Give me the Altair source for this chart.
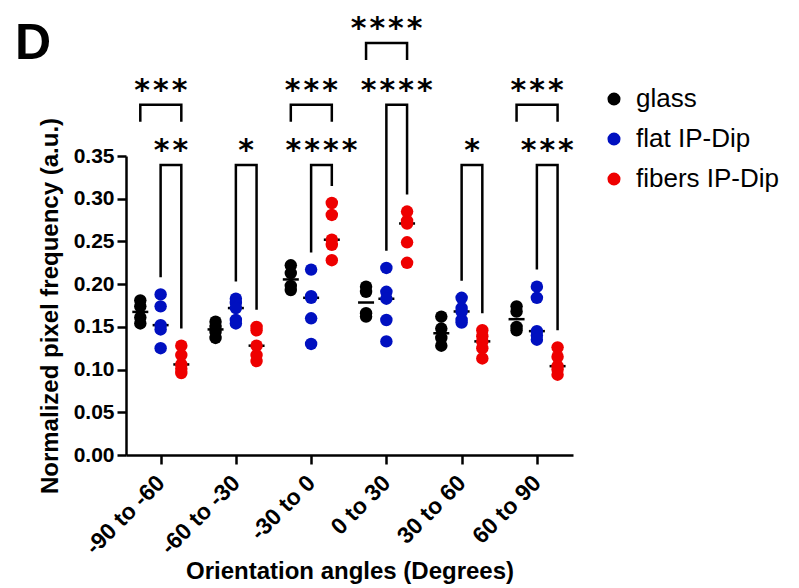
import json
import statistics
import altair as alt
import pandas as pd

# ---------------- data ----------------
categories = ["-90 to -60", "-60 to -30", "-30 to 0", "0 to 30", "30 to 60", "60 to 90"]
series = ["glass", "flat IP-Dip", "fibers IP-Dip"]
colors = ["#000000", "#0010C0", "#EE0000"]

glass = [
    [0.181, 0.174, 0.161, 0.154],
    [0.156, 0.150, 0.144, 0.137],
    [0.222, 0.213, 0.198, 0.193],
    [0.197, 0.191, 0.166, 0.162],
    [0.162, 0.148, 0.137, 0.128],
    [0.174, 0.168, 0.150, 0.146],
]
flat = [
    [0.188, 0.174, 0.152, 0.147, 0.125],
    [0.183, 0.178, 0.172, 0.158, 0.154],
    [0.217, 0.186, 0.184, 0.160, 0.130],
    [0.219, 0.191, 0.183, 0.158, 0.133],
    [0.184, 0.172, 0.168, 0.158, 0.155],
    [0.197, 0.184, 0.145, 0.140, 0.135],
]
fibers = [
    [0.128, 0.117, 0.106, 0.101, 0.096],
    [0.150, 0.146, 0.128, 0.117, 0.110],
    [0.295, 0.281, 0.252, 0.246, 0.228],
    [0.285, 0.274, 0.271, 0.249, 0.225],
    [0.146, 0.139, 0.133, 0.125, 0.113],
    [0.126, 0.115, 0.104, 0.100, 0.094],
]
y_ticks = [0.0, 0.05, 0.10, 0.15, 0.20, 0.25, 0.30, 0.35]

# significance brackets: (group index, left series, right series, level, stars, legs reach data)
brackets = [
    (0, 0, 2, 1, "***", False),
    (0, 1, 2, 0, "**", True),
    (1, 1, 2, 0, "*", True),
    (2, 0, 2, 1, "***", False),
    (2, 1, 2, 0, "****", True),
    (3, 0, 2, 2, "****", False),
    (3, 1, 2, 1, "****", True),
    (4, 1, 2, 0, "*", True),
    (5, 0, 2, 1, "***", False),
    (5, 1, 2, 0, "***", True),
]
LEVEL_Y = [0.3396, 0.410, 0.4824]   # bracket heights (data units)
STAR_GAP = 0.0255
LEG_GAP = 0.020
SHORT_LEG = 0.020
OFFSETS = [-0.27, 0.0, 0.275]

all_vals = [glass, flat, fibers]

pts, meds = [], []
for gi, cat in enumerate(categories):
    for si, s in enumerate(series):
        vals = all_vals[si][gi]
        for v in vals:
            pts.append({"pos": gi + OFFSETS[si], "value": v, "series": s})
        meds.append({"pos": gi + OFFSETS[si], "value": statistics.median(vals)})
pts = pd.DataFrame(pts)
meds = pd.DataFrame(meds)

lines, stars = [], []
for bi, (g, l, r, lev, st, to_data) in enumerate(brackets):
    top = LEVEL_Y[lev]
    xl, xr = g + OFFSETS[l], g + OFFSETS[r]
    if to_data:
        bl = max(all_vals[l][g]) + LEG_GAP
        br = max(all_vals[r][g]) + LEG_GAP
    else:
        bl = br = top - SHORT_LEG
    for k, (x, y) in enumerate([(xl, bl), (xl, top), (xr, top), (xr, br)]):
        lines.append({"bid": bi, "k": k, "pos": x, "value": y})
    stars.append({"pos": (xl + xr) / 2, "value": top + STAR_GAP, "stars": "\u200A".join(st)})
lines = pd.DataFrame(lines)
stars = pd.DataFrame(stars)

FONT = "Liberation Sans"

x_enc = alt.X(
    "pos:Q",
    scale=alt.Scale(domain=[-0.46, 5.48], nice=False, zero=False),
    axis=alt.Axis(
        values=list(range(len(categories))),
        labelExpr=json.dumps(categories) + "[datum.value]",
        title="Orientation angles (Degrees)",
        labelAngle=315, labelAlign="right", labelBaseline="middle",
        labelFontSize=23, labelPadding=15, labelOverlap=False,
        titlePadding=1, titleFontSize=24,
    ),
)
y_enc = alt.Y(
    "value:Q",
    scale=alt.Scale(domain=[0, 0.35], nice=False, zero=True),
    axis=alt.Axis(
        values=y_ticks, format=".2f", title="Normalized pixel frequency (a.u.)",
        labelFontSize=21, labelPadding=3, titlePadding=11, titleFontSize=24,
    ),
)

points = alt.Chart(pts).mark_circle(size=155, opacity=1).encode(
    x=x_enc, y=y_enc,
    color=alt.Color(
        "series:N",
        scale=alt.Scale(domain=series, range=colors),
        legend=alt.Legend(
            title=None, orient="none", legendX=475, legendY=-70,
            symbolType="circle", symbolSize=170, symbolStrokeWidth=0, symbolOpacity=1,
            labelFontSize=26, labelFont=FONT, labelColor="black",
            rowPadding=14, labelOffset=9,
        ),
    ),
)
median_ticks = alt.Chart(meds).mark_tick(
    color="black", opacity=1, thickness=2.5, size=16, orient="horizontal"
).encode(x=x_enc, y=y_enc)
bracket_lines = alt.Chart(lines).mark_line(
    color="black", strokeWidth=2.5, strokeJoin="miter", strokeCap="butt"
).encode(x=x_enc, y=y_enc, detail="bid:N", order="k:Q")
star_text = alt.Chart(stars).mark_text(
    font="DejaVu Sans", fontWeight="bold", fontSize=30, align="center",
    baseline="alphabetic", dy=17, color="black"
).encode(x=x_enc, y=y_enc, text="stars:N")

chart = alt.layer(median_ticks, points, bracket_lines, star_text).properties(
    width=447, height=299,
    title=alt.Title("D", anchor="start", frame="group", fontSize=50, font=FONT,
                    fontWeight="bold", color="black", dx=-111, dy=55, offset=0),
    autosize=alt.AutoSizeParams(type="none"),
    padding={"left": 126, "top": 156, "right": 226, "bottom": 133},
).configure_axis(
    domainColor="black", domainWidth=2.5, tickColor="black", tickWidth=2.5, tickSize=9,
    labelFont=FONT, labelFontWeight="bold", labelColor="black",
    titleFont=FONT, titleFontWeight="bold", titleColor="black", grid=False,
).configure_view(stroke=None)

chart.save("out.html", embed_options={"renderer": "svg", "actions": False})
